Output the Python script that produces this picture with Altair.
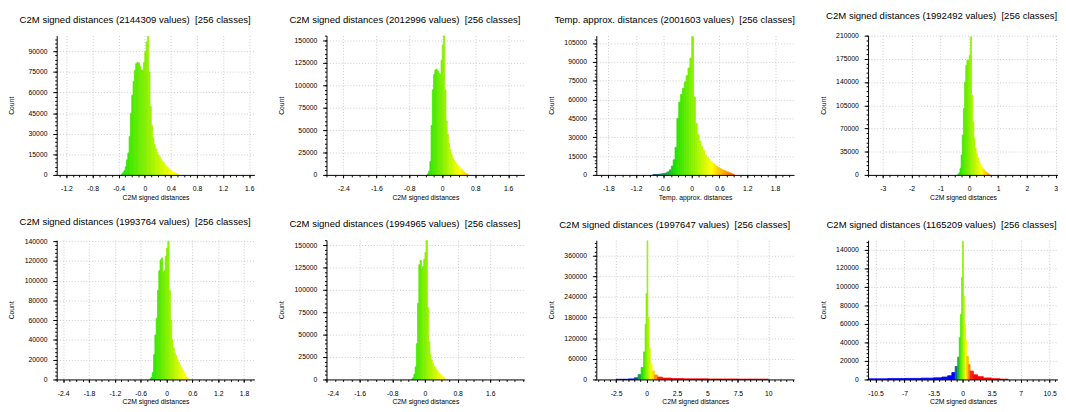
import math
import altair as alt
import numpy as np
import pandas as pd

# ---------------- data ----------------
TITLES = [
    "C2M signed distances (2144309 values)\u00a0 [256 classes]",
    "C2M signed distances (2012996 values)\u00a0 [256 classes]",
    "Temp. approx. distances (2001603 values)\u00a0 [256 classes]",
    "C2M signed distances (1992492 values)\u00a0 [256 classes]",
    "C2M signed distances (1993764 values)\u00a0 [256 classes]",
    "C2M signed distances (1994965 values)\u00a0 [256 classes]",
    "C2M signed distances (1997647 values)\u00a0 [256 classes]",
    "C2M signed distances (1165209 values)\u00a0 [256 classes]",
]
X_TITLES = [
    "C2M signed distances", "C2M signed distances", "Temp. approx. distances",
    "C2M signed distances", "C2M signed distances", "C2M signed distances",
    "C2M signed distances", "C2M signed distances",
]

# regular bins: first edge, bin width, counts
P1_START, P1_STEP = -0.36, 0.02
P1_COUNTS = [500, 1500, 3000, 6000, 11000, 16000, 28000, 45000, 58000, 68000,
             76000, 81000, 82000, 81500, 79000, 76000, 76500, 82000, 90000, 97000,
             101000, 75000, 50000, 36000, 27000, 22000, 19000, 16500, 14500, 13000,
             11500, 10000, 8800, 7500, 6500, 5500, 4500, 3700, 3000, 2300,
             1700, 1200, 700, 300]

P2_START, P2_STEP = -0.36, 0.03
P2_COUNTS = [1000, 4000, 15000, 55000, 95000, 112000, 117000, 118000, 116000, 113000,
             112000, 128000, 145000, 155000, 95000, 60000, 45000, 35000, 28000, 23000,
             19000, 16500, 14500, 12500, 11000, 9500, 8000, 6500, 5000, 3500,
             2200, 1200, 400]

P3_START, P3_STEP = -0.84, 0.04
P3_COUNTS = [200, 300, 400, 500, 700, 900, 1200, 1700, 2500, 4000,
             7000, 12000, 22000, 45000, 58000, 64000, 69000, 74000, 79000, 85000,
             93000, 110000, 62000, 41000, 32000, 27000, 23000, 19500, 16000, 14000,
             12500, 11000, 9500, 8300, 7000, 6000, 5000, 4200, 3500, 3000,
             2300, 1700, 1000, 500]

P4_START, P4_STEP = -0.40, 0.04
P4_COUNTS = [500, 3000, 10000, 30000, 60000, 100000, 140000, 165000, 173000, 172000,
             180000, 208000, 120000, 80000, 55000, 40000, 32000, 26000, 21000, 17000,
             14000, 11000, 8500, 6500, 4500, 3000, 1800, 700]

P5_START, P5_STEP = -0.39, 0.03
P5_COUNTS = [500, 2000, 7000, 25000, 45000, 62000, 90000, 110000, 121000, 123000,
             108000, 110000, 125000, 133000, 140000, 90000, 60000, 40000, 32000, 27000,
             24000, 20000, 17000, 14500, 12000, 9500, 7000, 4500, 2000, 600]

P6_START, P6_STEP = -0.33, 0.03
P6_COUNTS = [500, 2000, 6000, 14000, 40000, 85000, 128000, 133000, 124000, 126000,
             134000, 142000, 155000, 80000, 42000, 28000, 22000, 18000, 15000, 12500,
             10500, 8500, 7000, 5500, 4000, 2800, 1500, 500]

# irregular bins: edges and counts
P7_EDGES = [-2.5, -1.5, -1.0, -0.7, -0.45, -0.25, -0.12, -0.04, 0.04, 0.1, 0.2,
            0.3, 0.45, 0.65, 0.9, 1.3, 2.0, 3.0, 5.0, 7.5, 10.0]
P7_COUNTS = [500, 1500, 5000, 14000, 35000, 80000, 160000, 250000, 403000, 180000,
             90000, 45000, 25000, 13000, 7000, 4000, 2500, 1800, 1300, 900]

P8_EDGES = [-11.4, -9, -7, -5, -3.5, -2.5, -1.8, -1.3, -0.9, -0.6, -0.4, -0.25, -0.12,
            0.0, 0.08, 0.2, 0.35, 0.5, 0.7, 0.9, 1.3, 1.8, 2.5, 3.5, 4.5, 5.5]
P8_COUNTS = [700, 900, 1100, 1400, 1800, 2600, 4000, 7500, 14000, 24000, 45000, 70000,
             110000, 149000, 90000, 60000, 42000, 25000, 16000, 9000, 5000, 3000,
             1600, 800, 300]

X_DOMAINS = [[-1.35, 1.68], [-2.81, 1.99], [-2.06, 2.21], [-3.51, 3.08],
             [-2.55, 2.04], [-2.41, 2.43], [-4.13, 12.11], [-11.4, 11.5]]
Y_MAX = [101500, 155400, 110900, 210000, 141000, 155500, 405000, 150000]

X_TICKS = [
    [-1.2, -0.8, -0.4, 0, 0.4, 0.8, 1.2, 1.6],
    [-2.4, -1.6, -0.8, 0, 0.8, 1.6],
    [-1.8, -1.2, -0.6, 0, 0.6, 1.2, 1.8],
    [-3, -2, -1, 0, 1, 2, 3],
    [-2.4, -1.8, -1.2, -0.6, 0, 0.6, 1.2, 1.8],
    [-2.4, -1.6, -0.8, 0, 0.8, 1.6],
    [-2.5, 0, 2.5, 5, 7.5, 10],
    [-10.5, -7, -3.5, 0, 3.5, 7, 10.5],
]
X_MINOR = [0.1, 0.2, 0.15, 0.25, 0.15, 0.2, 0.5, 0.7]
Y_TICK_STEP = [15000, 25000, 15000, 35000, 20000, 25000, 60000, 20000]
Y_MINOR = [3000, 5000, 3000, 7000, 4000, 5000, 12000, 4000]

# value positions of blue / green / yellow / red in each panel's colour scale
COLOR_STOPS = [
    [-1.0, -0.1, 0.5, 1.2], [-1.0, -0.05, 0.5, 1.2], [-1.1, -0.15, 0.42, 0.95],
    [-1.0, -0.05, 0.55, 1.2], [-1.0, -0.05, 0.5, 1.1], [-1.0, -0.05, 0.5, 1.1],
    [-0.9, -0.05, 0.35, 0.85], [-0.9, -0.15, 0.3, 0.7],
]
RAMP = ["#0000ff", "#22e400", "#ffff00", "#ff0000"]

FONT = "Liberation Sans"
H = 143
LABEL_EXPR = "replace(format(datum.value, '~g'), '\u2212', '-')"


def frame_regular(start, step, counts):
    edges = [round(start + step * k, 6) for k in range(len(counts) + 1)]
    return frame_edges(edges, counts)


def frame_edges(edges, counts):
    return pd.DataFrame({
        "x0": edges[:-1],
        "x1": edges[1:],
        "c": [(a + b) / 2 for a, b in zip(edges[:-1], edges[1:])],
        "n": counts,
    })


FRAMES = [
    frame_regular(P1_START, P1_STEP, P1_COUNTS),
    frame_regular(P2_START, P2_STEP, P2_COUNTS),
    frame_regular(P3_START, P3_STEP, P3_COUNTS),
    frame_regular(P4_START, P4_STEP, P4_COUNTS),
    frame_regular(P5_START, P5_STEP, P5_COUNTS),
    frame_regular(P6_START, P6_STEP, P6_COUNTS),
    frame_edges(P7_EDGES, P7_COUNTS),
    frame_edges(P8_EDGES, P8_COUNTS),
]


def steps(lo, hi, step):
    k0 = math.ceil(lo / step - 1e-9)
    k1 = math.floor(hi / step + 1e-9)
    return [round(k * step, 6) for k in range(k0, k1 + 1)]


def panel(i):
    df = FRAMES[i]
    last_col = (i % 4 == 3)
    w = 195 if last_col else 203
    xd = X_DOMAINS[i]
    ymax = Y_MAX[i]
    xs = alt.Scale(domain=xd, nice=False, zero=False)
    ys = alt.Scale(domain=[0, ymax], nice=False, zero=True)
    cs = alt.Scale(domain=COLOR_STOPS[i], range=RAMP, interpolate="rgb", clamp=True)

    major_y = list(range(0, ymax + 1, Y_TICK_STEP[i]))
    minor_x = steps(xd[0], xd[1], X_MINOR[i])
    minor_y = steps(0, ymax, Y_MINOR[i])

    bars = alt.Chart(df).mark_rect(strokeWidth=0.8).encode(
        x=alt.X("x0:Q", scale=xs, axis=alt.Axis(
            values=X_TICKS[i], labelExpr=LABEL_EXPR, title=X_TITLES[i],
            grid=True, domain=False, tickSize=3, labelPadding=7,
            titleY=23, titleBaseline="middle", zindex=0)),
        x2="x1:Q",
        y=alt.Y("n:Q", scale=ys, axis=alt.Axis(
            values=major_y, labelExpr=LABEL_EXPR, title="Count",
            grid=True, domain=False, tickSize=4, labelPadding=6,
            titleX=-46, titleY=H / 2, titleAngle=270, titleBaseline="middle",
            zindex=0)),
        y2=alt.datum(0),
        color=alt.Color("c:Q", scale=cs, legend=None),
        stroke=alt.Stroke("c:Q", scale=cs, legend=None),
    )
    minor = alt.Chart(df).mark_rect(opacity=0).encode(
        x=alt.X("x0:Q", scale=xs, axis=alt.Axis(
            values=minor_x, orient="bottom", labels=False, grid=False,
            domain=True, tickSize=2, title=None, zindex=1)),
        y=alt.Y("n:Q", scale=ys, axis=alt.Axis(
            values=minor_y, orient="left", labels=False, grid=False,
            domain=True, tickSize=2, title=None, zindex=1)),
    )
    title_dx = -22 if last_col else -21
    return alt.layer(bars, minor).resolve_axis(
        x="independent", y="independent"
    ).properties(
        width=w, height=H,
        title=alt.TitleParams(
            text=TITLES[i], font=FONT, fontSize=9.8, fontWeight="normal",
            color="black", anchor="middle", dx=title_dx, offset=11),
    )


chart = alt.concat(
    *[panel(i) for i in range(8)], columns=4,
    spacing={"row": 17, "column": 24},
).properties(
    padding={"left": 0, "top": -2, "right": 0, "bottom": 0},
    background="white",
).configure_view(
    stroke=None
).configure_axis(
    labelFont=FONT, titleFont=FONT, labelFontSize=7, titleFontSize=7,
    titleFontWeight="normal", labelColor="black", titleColor="black",
    domainColor="black", tickColor="black", domainWidth=1, tickWidth=1,
    gridColor="#c8c8c8", gridDash=[1, 2], gridWidth=1,
)

chart.save("out.html", embed_options={"renderer": "svg", "actions": False})
